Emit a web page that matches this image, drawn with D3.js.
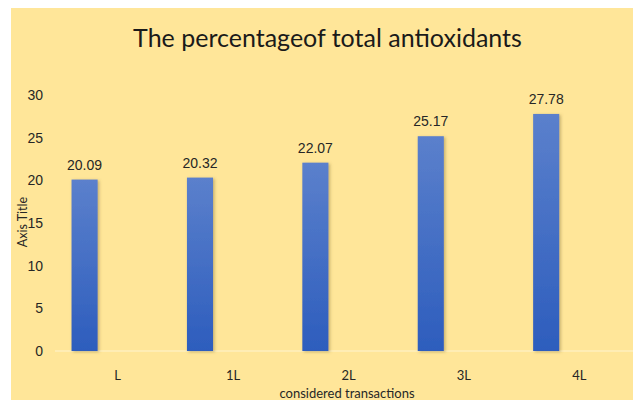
<!DOCTYPE html>
<html>
<head>
<meta charset="utf-8">
<script src="https://cdn.jsdelivr.net/npm/d3@7/dist/d3.min.js"></script>
<style>
  html, body { margin: 0; padding: 0; background: #ffffff; }
  svg { display: block; }
</style>
</head>
<body>
<svg id="chart" width="633" height="400"></svg>
<script>
const categories = ["L", "1L", "2L", "3L", "4L"];
const values = [20.09, 20.32, 22.07, 25.17, 27.78];
const yTicks = [0, 5, 10, 15, 20, 25, 30];
const titleText = "The percentageof total antioxidants";
const xTitleText = "considered transactions";
const yTitleText = "Axis Title";

const W = 633, H = 400;
const svg = d3.select("#chart");

const defs = svg.append("defs");
const grad = defs.append("linearGradient")
  .attr("id", "barGrad").attr("x1", 0).attr("y1", 0).attr("x2", 0).attr("y2", 1);
grad.append("stop").attr("offset", "0%").attr("stop-color", "#5b80cc");
grad.append("stop").attr("offset", "100%").attr("stop-color", "#2d5dbd");
const f = defs.append("filter").attr("id", "shadow")
  .attr("x", "-30%").attr("y", "-10%").attr("width", "160%").attr("height", "120%");
f.append("feDropShadow").attr("dx", 1.5).attr("dy", 1).attr("stdDeviation", 1.5)
  .attr("flood-color", "#7a6a30").attr("flood-opacity", 0.45);

// background
svg.append("rect").attr("x", 11).attr("y", 8).attr("width", W - 11).attr("height", H - 8)
  .attr("fill", "#ffe699");

const x = d3.scaleBand().domain(categories).range([60, 637]).padding(0);
const y = d3.scaleLinear().domain([0, 30]).range([351, 95]);

// title
const title = svg.append("text")
  .attr("x", 327.5).attr("y", 47)
  .attr("text-anchor", "middle")
  .attr("font-family", "Lato, 'Open Sans', sans-serif")
  .attr("font-size", 24)
  .attr("fill", "#1a1a1a")
  .text(titleText);
const tw = title.node().getComputedTextLength();
title.attr("font-size", 24 * 389 / tw);

// y axis
const yAxis = svg.append("g")
  .attr("transform", "translate(43,0)")
  .call(d3.axisLeft(y).tickValues(yTicks).tickSize(0).tickPadding(0).tickFormat(d3.format("d")));
yAxis.select(".domain").remove();
yAxis.selectAll("text")
  .attr("font-family", "'Liberation Sans', Arial, sans-serif")
  .attr("font-size", 14)
  .attr("fill", "#262626");

// baseline
svg.append("line")
  .attr("x1", 55).attr("x2", W).attr("y1", y(0)).attr("y2", y(0))
  .attr("stroke", "#fff3cf").attr("stroke-width", 1.2);

// bars
const barOff = 0.1, barW = 0.226;
svg.append("g").selectAll("rect")
  .data(values)
  .join("rect")
  .attr("x", (d, i) => x(categories[i]) + x.bandwidth() * barOff)
  .attr("width", x.bandwidth() * barW)
  .attr("y", d => y(d))
  .attr("height", d => y(0) - y(d))
  .attr("fill", "url(#barGrad)")
  .attr("filter", "url(#shadow)");

// data labels
svg.append("g").selectAll("text")
  .data(values)
  .join("text")
  .attr("x", (d, i) => x(categories[i]) + x.bandwidth() * (barOff + barW / 2))
  .attr("y", d => y(d) - 10)
  .attr("text-anchor", "middle")
  .attr("font-family", "'Liberation Sans', Arial, sans-serif")
  .attr("font-size", 14)
  .attr("fill", "#262626")
  .text(d => d3.format(".2f")(d));

// x axis labels
const xAxis = svg.append("g")
  .attr("transform", `translate(0,${y(0)})`)
  .call(d3.axisBottom(x).tickSize(0).tickPadding(0));
xAxis.select(".domain").remove();
xAxis.selectAll("text")
  .attr("dy", null)
  .attr("y", 29)
  .attr("font-family", "Lato, 'Open Sans', sans-serif")
  .attr("font-size", 13)
  .attr("fill", "#262626");

// axis titles
svg.append("text")
  .attr("x", 347).attr("y", 398)
  .attr("text-anchor", "middle")
  .attr("font-family", "Lato, 'Open Sans', sans-serif")
  .attr("font-size", 13)
  .attr("fill", "#262626")
  .text(xTitleText);

svg.append("text")
  .attr("transform", "translate(27,222) rotate(-90)")
  .attr("text-anchor", "middle")
  .attr("font-family", "Lato, 'Open Sans', sans-serif")
  .attr("font-size", 12.5)
  .attr("fill", "#262626")
  .text(yTitleText);
</script>
</body>
</html>
